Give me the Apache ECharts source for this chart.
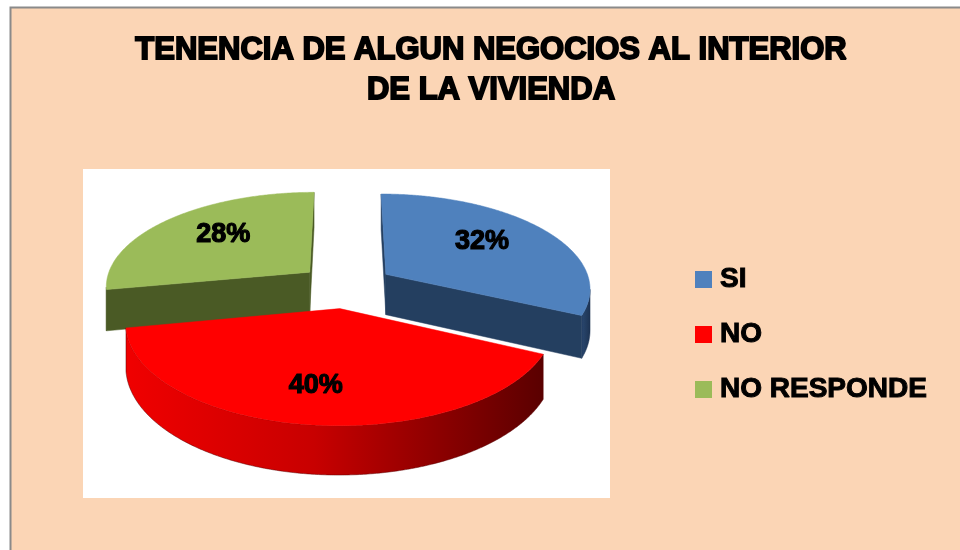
<!DOCTYPE html>
<html>
<head>
<meta charset="utf-8">
<script src="https://cdn.jsdelivr.net/npm/echarts@6/dist/echarts.min.js"></script>
<style>
  html, body { margin: 0; padding: 0; background: #ffffff; }
  #chart { width: 960px; height: 550px; }
</style>
</head>
<body>
<div id="chart"></div>
<script>
// Survey answers: share of households with a business inside the dwelling
const categories = ['SI', 'NO', 'NO RESPONDE'];
const shares = [32, 40, 28];
const topColors = ['#4F81BD', '#FF0000', '#9BBB59'];
const wallShades = [
  ['#2A4870', '#1D3352'],
  ['#F00000', '#5A0000'],
  ['#56692C', '#404E1F']
];
const cutColors = ['#243F60', '#B00000', '#4A5A25'];
const titleText = 'TENENCIA DE ALGUN NEGOCIOS AL INTERIOR\nDE LA VIVIENDA';

// 3D pie geometry (screen pixels); drawing order back to front
const PIE = { cx: 346, cy: 286, r: 205, tilt: 0.46, dist: 1500, depth: 41, explode: 48 };
const drawOrder = [2, 0, 1];
const FONT = '"Liberation Sans", Arial, sans-serif';

const total = shares.reduce((a, b) => a + b, 0);

function project(X, Z, bottom) {
  const s = PIE.dist / (PIE.dist - Z);
  return [PIE.cx + X * s, PIE.cy + (PIE.tilt * Z + (bottom ? PIE.depth : 0)) * s];
}

function makeRender(i) {
  return function (params, api) {
    const v = api.value(0);
    let before = 0;
    for (let k = 0; k < i; k++) before += shares[k];
    const a1 = before / total * 360;
    const a2 = (before + v) / total * 360;
    const midRad = (a1 + a2) / 2 * Math.PI / 180;
    const ox = PIE.explode * Math.sin(midRad);
    const oz = -PIE.explode * Math.cos(midRad);
    const pt = (deg, rr, bottom) => {
      const t = deg * Math.PI / 180;
      return project(ox + rr * Math.sin(t), oz - rr * Math.cos(t), bottom);
    };
    // is a face with outward normal at angle nDeg, passing through (px,pz), facing the camera?
    const faces = (nDeg, px, pz) => {
      const t = nDeg * Math.PI / 180;
      const nx = Math.sin(t), nz = -Math.cos(t);
      return nx * (0 - px) + nz * (PIE.dist - pz) > 0;
    };

    const children = [];
    const n = Math.max(2, Math.ceil((a2 - a1) / 0.5));
    const degs = [];
    for (let k = 0; k <= n; k++) degs.push(a1 + (a2 - a1) * k / n);

    // curved outer wall, visible part only
    const vis = degs.filter(d => {
      const t = d * Math.PI / 180;
      return faces(d, ox + PIE.r * Math.sin(t), oz - PIE.r * Math.cos(t));
    });
    if (vis.length > 1) {
      const topPts = vis.map(d => pt(d, PIE.r, false));
      const botPts = vis.map(d => pt(d, PIE.r, true)).reverse();
      const stops = i === 1
        ? [{ offset: 0, color: wallShades[i][0] }, { offset: 0.45, color: '#C80000' }, { offset: 1, color: wallShades[i][1] }]
        : [{ offset: 0, color: wallShades[i][0] }, { offset: 1, color: wallShades[i][1] }];
      children.push({
        type: 'polygon',
        shape: { points: topPts.concat(botPts) },
        style: { fill: new echarts.graphic.LinearGradient(0, 0, 1, 0, stops), stroke: wallShades[i][1], lineWidth: 0.5 }
      });
    }

    // flat cut faces at both ends of the slice
    const apexTop = project(ox, oz, false);
    const apexBot = project(ox, oz, true);
    [[a1, a1 - 90], [a2, a2 + 90]].forEach(([edge, normal]) => {
      if (faces(normal, ox, oz)) {
        children.push({
          type: 'polygon',
          shape: { points: [apexTop, pt(edge, PIE.r, false), pt(edge, PIE.r, true), apexBot] },
          style: { fill: cutColors[i], stroke: cutColors[i], lineWidth: 0.5 }
        });
      }
    });

    // top face
    children.push({
      type: 'polygon',
      shape: { points: [apexTop].concat(degs.map(d => pt(d, PIE.r, false))) },
      style: { fill: topColors[i], stroke: topColors[i], lineWidth: 0.5 }
    });

    // percentage label on the top face
    const lp = pt((a1 + a2) / 2, PIE.r * 0.6, false);
    const frontShift = 0.4 * PIE.depth * Math.max(0, -Math.cos(midRad));
    children.push({
      type: 'text',
      style: {
        text: v + '%',
        x: lp[0] - (i === 1 ? 6 : 0),
        y: lp[1] + frontShift - 5,
        align: 'center',
        verticalAlign: 'middle',
        font: 'bold 27px ' + FONT,
        fill: '#000000',
        stroke: '#000000',
        lineWidth: 1.2
      }
    });

    return { type: 'group', children: children };
  };
}

const chart = echarts.init(document.getElementById('chart'), null, { renderer: 'canvas' });

chart.setOption({
  backgroundColor: '#ffffff',
  animation: false,
  title: {
    text: titleText,
    left: 491,
    top: 30,
    textAlign: 'center',
    padding: 0,
    textStyle: {
      fontFamily: FONT,
      fontWeight: 'bold',
      fontSize: 31,
      lineHeight: 40,
      color: '#000000',
      textBorderColor: '#000000',
      textBorderWidth: 1.8
    }
  },
  legend: {
    data: categories,
    orient: 'vertical',
    left: 695,
    top: 265,
    padding: 0,
    icon: 'rect',
    itemWidth: 17,
    itemHeight: 17,
    itemGap: 26,
    selectedMode: false,
    textStyle: {
      fontFamily: FONT,
      fontWeight: 'bold',
      fontSize: 28,
      lineHeight: 28,
      color: '#000000',
      textBorderColor: '#000000',
      textBorderWidth: 1,
      padding: [0, 0, 0, 3]
    }
  },
  graphic: [
    {
      type: 'rect', z: 0,
      shape: { x: 10.5, y: 7.5, width: 960, height: 560 },
      style: { fill: '#FBD5B5', stroke: '#8A8A8A', lineWidth: 2 }
    },
    {
      type: 'rect', z: 0,
      shape: { x: 83, y: 169, width: 527, height: 329 },
      style: { fill: '#ffffff' }
    }
  ],
  series: categories.map((name, i) => ({
    type: 'custom',
    name: name,
    coordinateSystem: 'none',
    silent: true,
    z: 10 + drawOrder.indexOf(i),
    itemStyle: { color: topColors[i] },
    renderItem: makeRender(i),
    data: [[shares[i]]]
  }))
});
</script>
</body>
</html>
